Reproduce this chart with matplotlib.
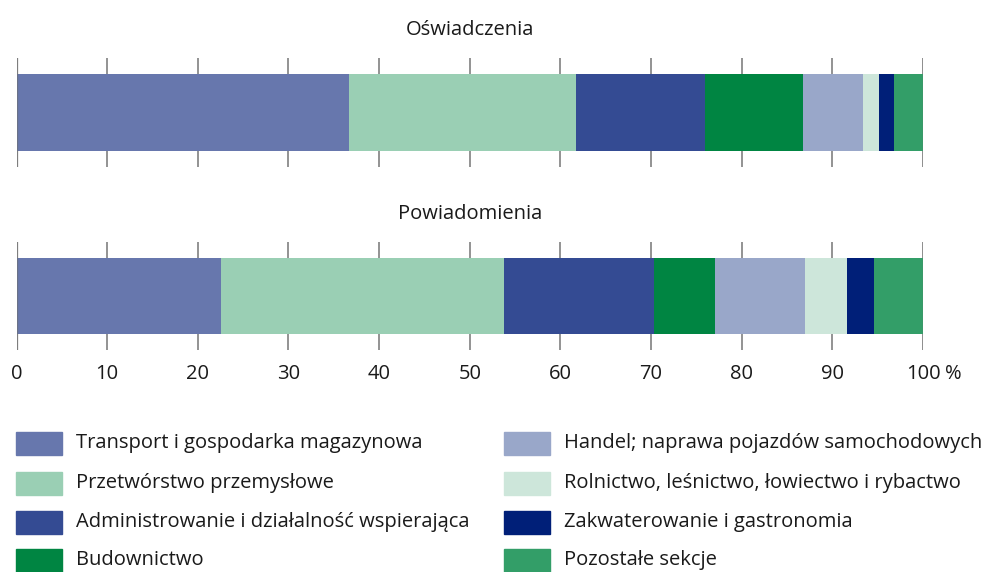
import matplotlib
matplotlib.use("Agg")
import matplotlib.pyplot as plt
from matplotlib.patches import Rectangle

plt.rcParams['font.family'] = ['Open Sans', 'DejaVu Sans']

sections = [
    "Transport i gospodarka magazynowa",
    "Przetwórstwo przemysłowe",
    "Administrowanie i działalność wspierająca",
    "Budownictwo",
    "Handel; naprawa pojazdów samochodowych",
    "Rolnictwo, leśnictwo, łowiectwo i rybactwo",
    "Zakwaterowanie i gastronomia",
    "Pozostałe sekcje",
]
colors = ["#6777AD", "#9ACFB4", "#344B93", "#008542",
          "#99A7C9", "#CDE6DA", "#001F78", "#339E68"]

panels = ["Oświadczenia", "Powiadomienia"]
oswiadczenia = [36.7, 25.0, 14.3, 10.8, 6.6, 1.7, 1.7, 3.2]
powiadomienia = [22.6, 31.2, 16.5, 6.8, 9.9, 4.6, 3.0, 5.4]
ticks = [0, 10, 20, 30, 40, 50, 60, 70, 80, 90, 100]
tick_labels = ["0", "10", "20", "30", "40", "50", "60", "70", "80", "90", "100"]
unit = "%"

W, H = 990, 572
fig = plt.figure(figsize=(W / 100, H / 100), dpi=100)
FS = 14.5
TXT = "#1a1a1a"

def fx(px):
    return px / W

def fy(py):
    return 1 - py / H

ax_rects = [
    [fx(16.5), fy(167), fx(923) - fx(16.5), 109 / H],
    [fx(16.5), fy(350), fx(923) - fx(16.5), 108 / H],
]

for k, (name, values) in enumerate(zip(panels, [oswiadczenia, powiadomienia])):
    ax = fig.add_axes(ax_rects[k])
    left = 0
    for v, c in zip(values, colors):
        ax.barh(0, v, left=left, height=0.7, color=c, zorder=2)
        left += v
    ax.set_xlim(0, 100)
    ax.set_ylim(-0.5, 0.5)
    ax.set_yticks([])
    for t in ticks:
        ax.axvline(t, color="#8a8a8a", lw=1.3, zorder=1)
    for t in (0, 100):
        ax.axvline(t, color="#6f6f6f", lw=1.0, alpha=0.6, zorder=3)
    for s in ax.spines.values():
        s.set_visible(False)
    ax.set_xticks(ticks)
    ax.tick_params(axis="x", length=0, pad=10, labelsize=FS, colors=TXT)
    if k == 1:
        ax.set_xticklabels(tick_labels)
        ax.annotate(unit, xy=(100, 0), xycoords=("data", "axes fraction"),
                    xytext=(16, -10), textcoords="offset points",
                    ha="left", va="top", fontsize=FS, color=TXT)
    else:
        ax.set_xticklabels([])
    ax.set_title(name, fontsize=FS, color=TXT, pad=16.5)

# legend
row_y = [443, 483, 522, 560]
col_x = [16, 504]
for i, (lab, c) in enumerate(zip(sections, colors)):
    col, row = divmod(i, 4)
    x0 = col_x[col]
    y0 = row_y[row]
    fig.patches.append(Rectangle((fx(x0), fy(y0 + 11.5)), 46 / W, 23 / H,
                                 transform=fig.transFigure, color=c))
    fig.text(fx(x0 + 60), fy(y0), lab, fontsize=FS, va="center", ha="left",
             color=TXT)

fig.savefig("out.png", dpi=100)
